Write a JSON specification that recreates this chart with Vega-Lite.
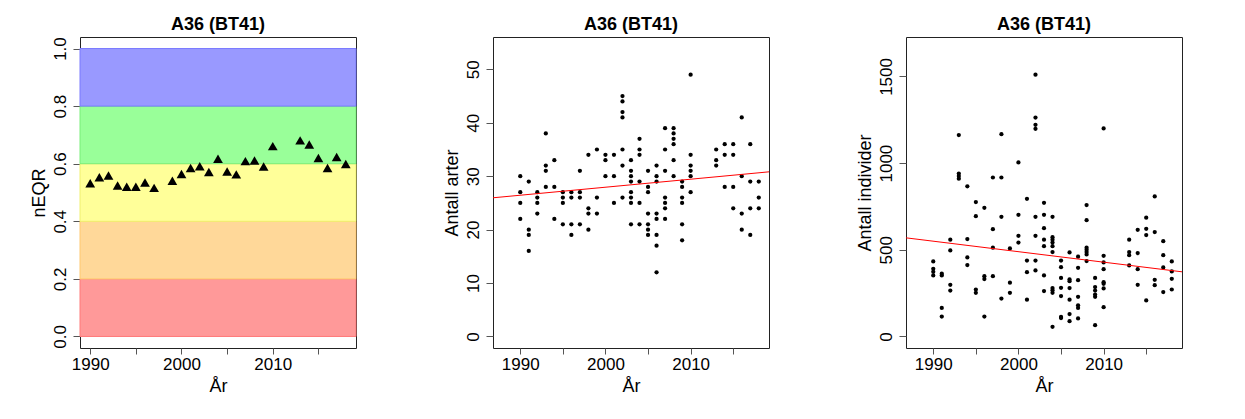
{
  "$schema": "https://vega.github.io/schema/vega-lite/v6.json",
  "background": "white",
  "padding": {"left": 29, "top": 15, "right": 5, "bottom": 5},
  "bounds": "flush",
  "spacing": 137,
  "datasets": {
    "neqr": [
      {"year": 1990, "value": 0.532}, {"year": 1991, "value": 0.553}, {"year": 1992, "value": 0.559},
      {"year": 1993, "value": 0.524}, {"year": 1994, "value": 0.520}, {"year": 1995, "value": 0.520},
      {"year": 1996, "value": 0.535}, {"year": 1997, "value": 0.516}, {"year": 1999, "value": 0.541},
      {"year": 2000, "value": 0.564}, {"year": 2001, "value": 0.585}, {"year": 2002, "value": 0.591},
      {"year": 2003, "value": 0.571}, {"year": 2004, "value": 0.617}, {"year": 2005, "value": 0.573},
      {"year": 2006, "value": 0.563}, {"year": 2007, "value": 0.609}, {"year": 2008, "value": 0.611},
      {"year": 2009, "value": 0.590}, {"year": 2010, "value": 0.661}, {"year": 2013, "value": 0.681},
      {"year": 2014, "value": 0.667}, {"year": 2015, "value": 0.620}, {"year": 2016, "value": 0.585},
      {"year": 2017, "value": 0.623}, {"year": 2018, "value": 0.599}
    ],
    "bands": [
      {"klasse": "Svært dårlig", "lo": 0.0, "hi": 0.2},
      {"klasse": "Dårlig", "lo": 0.2, "hi": 0.4},
      {"klasse": "Moderat", "lo": 0.4, "hi": 0.6},
      {"klasse": "God", "lo": 0.6, "hi": 0.8},
      {"klasse": "Svært god", "lo": 0.8, "hi": 1.0}
    ],
    "arter": [
      {"year": 1990, "n": 30}, {"year": 1990, "n": 27}, {"year": 1990, "n": 25}, {"year": 1990, "n": 22},
      {"year": 1991, "n": 29}, {"year": 1991, "n": 20}, {"year": 1991, "n": 19}, {"year": 1991, "n": 16},
      {"year": 1992, "n": 27}, {"year": 1992, "n": 26}, {"year": 1992, "n": 25}, {"year": 1992, "n": 23},
      {"year": 1993, "n": 38}, {"year": 1993, "n": 32}, {"year": 1993, "n": 31}, {"year": 1993, "n": 28},
      {"year": 1994, "n": 33}, {"year": 1994, "n": 28}, {"year": 1994, "n": 22},
      {"year": 1995, "n": 27}, {"year": 1995, "n": 26}, {"year": 1995, "n": 25}, {"year": 1995, "n": 21},
      {"year": 1996, "n": 27}, {"year": 1996, "n": 26}, {"year": 1996, "n": 21}, {"year": 1996, "n": 19},
      {"year": 1997, "n": 31}, {"year": 1997, "n": 27}, {"year": 1997, "n": 26}, {"year": 1997, "n": 21},
      {"year": 1998, "n": 34}, {"year": 1998, "n": 24}, {"year": 1998, "n": 23}, {"year": 1998, "n": 20},
      {"year": 1999, "n": 35}, {"year": 1999, "n": 26}, {"year": 1999, "n": 23},
      {"year": 2000, "n": 34}, {"year": 2000, "n": 33}, {"year": 2000, "n": 30},
      {"year": 2001, "n": 34}, {"year": 2001, "n": 30}, {"year": 2001, "n": 25},
      {"year": 2002, "n": 45}, {"year": 2002, "n": 44}, {"year": 2002, "n": 42}, {"year": 2002, "n": 41}, {"year": 2002, "n": 35}, {"year": 2002, "n": 32}, {"year": 2002, "n": 26},
      {"year": 2003, "n": 33}, {"year": 2003, "n": 31}, {"year": 2003, "n": 30}, {"year": 2003, "n": 29}, {"year": 2003, "n": 27}, {"year": 2003, "n": 26}, {"year": 2003, "n": 25}, {"year": 2003, "n": 21},
      {"year": 2004, "n": 37}, {"year": 2004, "n": 35}, {"year": 2004, "n": 34}, {"year": 2004, "n": 29}, {"year": 2004, "n": 25}, {"year": 2004, "n": 21},
      {"year": 2005, "n": 31}, {"year": 2005, "n": 28}, {"year": 2005, "n": 27}, {"year": 2005, "n": 23}, {"year": 2005, "n": 21}, {"year": 2005, "n": 20}, {"year": 2005, "n": 19},
      {"year": 2006, "n": 32}, {"year": 2006, "n": 30}, {"year": 2006, "n": 29}, {"year": 2006, "n": 23}, {"year": 2006, "n": 22}, {"year": 2006, "n": 19}, {"year": 2006, "n": 17}, {"year": 2006, "n": 12},
      {"year": 2007, "n": 39}, {"year": 2007, "n": 35}, {"year": 2007, "n": 31}, {"year": 2007, "n": 26}, {"year": 2007, "n": 25}, {"year": 2007, "n": 24}, {"year": 2007, "n": 22},
      {"year": 2008, "n": 39}, {"year": 2008, "n": 38}, {"year": 2008, "n": 37}, {"year": 2008, "n": 36}, {"year": 2008, "n": 33}, {"year": 2008, "n": 30},
      {"year": 2009, "n": 29}, {"year": 2009, "n": 28}, {"year": 2009, "n": 26}, {"year": 2009, "n": 25}, {"year": 2009, "n": 21}, {"year": 2009, "n": 18},
      {"year": 2010, "n": 49}, {"year": 2010, "n": 34}, {"year": 2010, "n": 32}, {"year": 2010, "n": 31}, {"year": 2010, "n": 30}, {"year": 2010, "n": 27},
      {"year": 2013, "n": 35}, {"year": 2013, "n": 33}, {"year": 2013, "n": 32},
      {"year": 2014, "n": 36}, {"year": 2014, "n": 34}, {"year": 2014, "n": 28},
      {"year": 2015, "n": 36}, {"year": 2015, "n": 34}, {"year": 2015, "n": 28}, {"year": 2015, "n": 24},
      {"year": 2016, "n": 41}, {"year": 2016, "n": 30}, {"year": 2016, "n": 23}, {"year": 2016, "n": 20},
      {"year": 2017, "n": 36}, {"year": 2017, "n": 29}, {"year": 2017, "n": 24}, {"year": 2017, "n": 19},
      {"year": 2018, "n": 29}, {"year": 2018, "n": 26}, {"year": 2018, "n": 24}
    ],
    "arter_trend": [
      {"year": 1986.8, "n": 25.96}, {"year": 2019.2, "n": 30.82}
    ],
    "indiv": [
      {"year": 1990, "n": 433}, {"year": 1990, "n": 390}, {"year": 1990, "n": 373}, {"year": 1990, "n": 352},
      {"year": 1991, "n": 362}, {"year": 1991, "n": 352}, {"year": 1991, "n": 165}, {"year": 1991, "n": 115},
      {"year": 1992, "n": 558}, {"year": 1992, "n": 496}, {"year": 1992, "n": 298}, {"year": 1992, "n": 265},
      {"year": 1993, "n": 1162}, {"year": 1993, "n": 940}, {"year": 1993, "n": 925}, {"year": 1993, "n": 910},
      {"year": 1994, "n": 866}, {"year": 1994, "n": 562}, {"year": 1994, "n": 456}, {"year": 1994, "n": 412},
      {"year": 1995, "n": 775}, {"year": 1995, "n": 694}, {"year": 1995, "n": 271}, {"year": 1995, "n": 252},
      {"year": 1996, "n": 742}, {"year": 1996, "n": 348}, {"year": 1996, "n": 331}, {"year": 1996, "n": 115},
      {"year": 1997, "n": 917}, {"year": 1997, "n": 619}, {"year": 1997, "n": 512}, {"year": 1997, "n": 348},
      {"year": 1998, "n": 1167}, {"year": 1998, "n": 917}, {"year": 1998, "n": 690}, {"year": 1998, "n": 219},
      {"year": 1999, "n": 508}, {"year": 1999, "n": 310}, {"year": 1999, "n": 252},
      {"year": 2000, "n": 1004}, {"year": 2000, "n": 702}, {"year": 2000, "n": 581}, {"year": 2000, "n": 542},
      {"year": 2001, "n": 794}, {"year": 2001, "n": 438}, {"year": 2001, "n": 371}, {"year": 2001, "n": 212},
      {"year": 2002, "n": 1510}, {"year": 2002, "n": 1263}, {"year": 2002, "n": 1221}, {"year": 2002, "n": 1198}, {"year": 2002, "n": 690}, {"year": 2002, "n": 581}, {"year": 2002, "n": 438}, {"year": 2002, "n": 381},
      {"year": 2003, "n": 771}, {"year": 2003, "n": 702}, {"year": 2003, "n": 625}, {"year": 2003, "n": 558}, {"year": 2003, "n": 521}, {"year": 2003, "n": 352}, {"year": 2003, "n": 262},
      {"year": 2004, "n": 690}, {"year": 2004, "n": 573}, {"year": 2004, "n": 558}, {"year": 2004, "n": 542}, {"year": 2004, "n": 521}, {"year": 2004, "n": 487}, {"year": 2004, "n": 279}, {"year": 2004, "n": 267}, {"year": 2004, "n": 252}, {"year": 2004, "n": 56},
      {"year": 2005, "n": 438}, {"year": 2005, "n": 400}, {"year": 2005, "n": 338}, {"year": 2005, "n": 281}, {"year": 2005, "n": 233}, {"year": 2005, "n": 113}, {"year": 2005, "n": 106},
      {"year": 2006, "n": 485}, {"year": 2006, "n": 329}, {"year": 2006, "n": 319}, {"year": 2006, "n": 279}, {"year": 2006, "n": 212}, {"year": 2006, "n": 129}, {"year": 2006, "n": 88},
      {"year": 2007, "n": 460}, {"year": 2007, "n": 396}, {"year": 2007, "n": 325}, {"year": 2007, "n": 229}, {"year": 2007, "n": 180}, {"year": 2007, "n": 165}, {"year": 2007, "n": 104},
      {"year": 2008, "n": 758}, {"year": 2008, "n": 671}, {"year": 2008, "n": 512}, {"year": 2008, "n": 500}, {"year": 2008, "n": 487}, {"year": 2008, "n": 473}, {"year": 2008, "n": 435},
      {"year": 2009, "n": 338}, {"year": 2009, "n": 285}, {"year": 2009, "n": 265}, {"year": 2009, "n": 242}, {"year": 2009, "n": 229}, {"year": 2009, "n": 65},
      {"year": 2010, "n": 1200}, {"year": 2010, "n": 465}, {"year": 2010, "n": 427}, {"year": 2010, "n": 388}, {"year": 2010, "n": 313}, {"year": 2010, "n": 304}, {"year": 2010, "n": 277}, {"year": 2010, "n": 169},
      {"year": 2013, "n": 558}, {"year": 2013, "n": 487}, {"year": 2013, "n": 469}, {"year": 2013, "n": 410},
      {"year": 2014, "n": 615}, {"year": 2014, "n": 481}, {"year": 2014, "n": 388}, {"year": 2014, "n": 298},
      {"year": 2015, "n": 685}, {"year": 2015, "n": 621}, {"year": 2015, "n": 585}, {"year": 2015, "n": 208},
      {"year": 2016, "n": 808}, {"year": 2016, "n": 602}, {"year": 2016, "n": 327}, {"year": 2016, "n": 296},
      {"year": 2017, "n": 550}, {"year": 2017, "n": 469}, {"year": 2017, "n": 398}, {"year": 2017, "n": 256},
      {"year": 2018, "n": 433}, {"year": 2018, "n": 375}, {"year": 2018, "n": 333}, {"year": 2018, "n": 271}
    ],
    "indiv_trend": [
      {"year": 1986.8, "n": 569}, {"year": 2019.2, "n": 373}
    ]
  },
  "hconcat": [
    {
      "width": 276,
      "height": 311,
      "title": "A36 (BT41)",
      "layer": [
        {
          "data": {"name": "bands"},
          "mark": {"type": "rect", "strokeWidth": 1},
          "encoding": {
            "x": {"datum": 1988.88, "type": "quantitative", "scale": {"domain": [1988.88, 2019.12], "nice": false, "zero": false}},
            "x2": {"datum": 2019.12},
            "y": {"field": "lo", "type": "quantitative"},
            "y2": {"field": "hi"},
            "fill": {"field": "klasse", "type": "nominal", "legend": null,
              "scale": {"domain": ["Svært dårlig", "Dårlig", "Moderat", "God", "Svært god"],
                        "range": ["#FF9999", "#FFD899", "#FFFF99", "#99FF99", "#9999FF"]}},
            "stroke": {"field": "klasse", "type": "nominal", "legend": null,
              "scale": {"domain": ["Svært dårlig", "Dårlig", "Moderat", "God", "Svært god"],
                        "range": ["#FF7A7A", "#FFC870", "#F0F070", "#7AEE7A", "#7A7AFF"]}}
          }
        },
        {
          "data": {"name": "neqr"},
          "mark": {"type": "point", "shape": "triangle-up", "filled": true, "color": "#000000", "size": 95, "opacity": 1},
          "encoding": {
            "x": {"field": "year", "type": "quantitative",
              "scale": {"domain": [1988.88, 2019.12], "nice": false, "zero": false},
              "axis": {"title": "År", "values": [1990, 1995, 2000, 2005, 2010, 2015], "format": "d",
                       "labelExpr": "datum.value % 10 == 0 ? datum.label : ''"}},
            "y": {"field": "value", "type": "quantitative",
              "scale": {"domain": [-0.04, 1.04], "nice": false, "zero": false},
              "axis": {"title": "nEQR", "values": [0, 0.2, 0.4, 0.6, 0.8, 1.0], "format": ".1f"}}
          }
        }
      ]
    },
    {
      "width": 276,
      "height": 311,
      "title": "A36 (BT41)",
      "layer": [
        {
          "data": {"name": "arter"},
          "mark": {"type": "circle", "color": "#000000", "size": 18, "opacity": 1},
          "encoding": {
            "x": {"field": "year", "type": "quantitative",
              "scale": {"domain": [1986.8, 2019.2], "nice": false, "zero": false},
              "axis": {"title": "År", "values": [1990, 1995, 2000, 2005, 2010, 2015], "format": "d",
                       "labelExpr": "datum.value % 10 == 0 ? datum.label : ''"}},
            "y": {"field": "n", "type": "quantitative",
              "scale": {"domain": [-2.16, 56.06], "nice": false, "zero": false},
              "axis": {"title": "Antall arter", "values": [0, 10, 20, 30, 40, 50]}}
          }
        },
        {
          "data": {"name": "arter_trend"},
          "mark": {"type": "line", "color": "#FF0000", "strokeWidth": 1},
          "encoding": {
            "x": {"field": "year", "type": "quantitative"},
            "y": {"field": "n", "type": "quantitative"}
          }
        }
      ]
    },
    {
      "width": 276,
      "height": 311,
      "title": "A36 (BT41)",
      "layer": [
        {
          "data": {"name": "indiv"},
          "mark": {"type": "circle", "color": "#000000", "size": 18, "opacity": 1},
          "encoding": {
            "x": {"field": "year", "type": "quantitative",
              "scale": {"domain": [1986.8, 2019.2], "nice": false, "zero": false},
              "axis": {"title": "År", "values": [1990, 1995, 2000, 2005, 2010, 2015], "format": "d",
                       "labelExpr": "datum.value % 10 == 0 ? datum.label : ''"}},
            "y": {"field": "n", "type": "quantitative",
              "scale": {"domain": [-66.4, 1727.4], "nice": false, "zero": false},
              "axis": {"title": "Antall individer", "values": [0, 500, 1000, 1500], "format": "d"}}
          }
        },
        {
          "data": {"name": "indiv_trend"},
          "mark": {"type": "line", "color": "#FF0000", "strokeWidth": 1},
          "encoding": {
            "x": {"field": "year", "type": "quantitative"},
            "y": {"field": "n", "type": "quantitative"}
          }
        }
      ]
    }
  ],
  "config": {
    "font": "Liberation Sans",
    "view": {"stroke": "#222222", "strokeWidth": 1},
    "axis": {
      "grid": false, "domain": false, "tickColor": "#555555", "tickSize": 7,
      "labelFontSize": 17, "titleFontSize": 18, "titleFontWeight": "normal",
      "labelColor": "#000000", "titleColor": "#000000",
      "labelFont": "Liberation Sans", "titleFont": "Liberation Sans"
    },
    "axisX": {"tickSize": 6, "labelPadding": 2, "titlePadding": 5, "labelFlush": false, "labelOverlap": false},
    "axisY": {"labelAngle": -90, "labelAlign": "center", "labelBaseline": "bottom", "labelPadding": 4,
              "minExtent": 28, "maxExtent": 28, "titlePadding": 4, "labelFlush": false, "labelOverlap": false},
    "title": {"fontSize": 18, "fontWeight": "bold", "offset": 3, "baseline": "alphabetic", "color": "#000000", "anchor": "middle", "font": "Liberation Sans"}
  }
}
